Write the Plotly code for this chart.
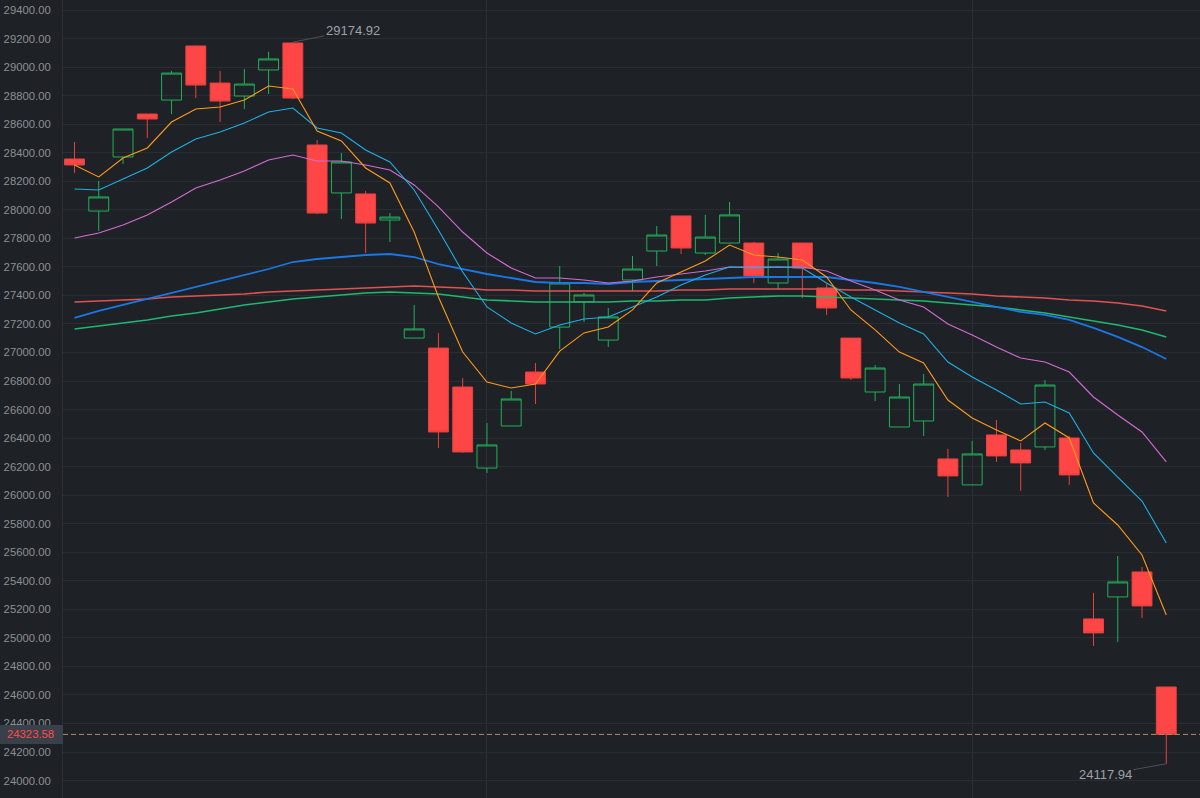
import plotly.graph_objects as go

# ---- data ----
opens = [28356, 27991, 28370, 28671, 28769, 29148, 28888, 28797, 28980, 29169,
         28454, 28118, 28111, 27928, 27101, 27031, 26758, 26190, 26485, 26863,
         27178, 27354, 27087, 27508, 27711, 27957, 27697, 27767, 27767, 27487,
         27767, 27452, 27101, 26723, 26478, 26520, 26254, 26072, 26422, 26317,
         26338, 26401, 25133, 25287, 25462, 24656]
highs = [28475, 28202, 28566, 28671, 28973, 29150, 28973, 28987, 29107, 29174.92,
         28489, 28398, 28132, 27977, 27333, 27137, 26821, 26506, 26730, 26926,
         27606, 27417, 27312, 27676, 27886, 27957, 27964, 28055, 27775, 27697,
         27767, 27480, 27101, 26912, 26779, 26849, 26324, 26380, 26527, 26366,
         26807, 26415, 25315, 25574, 25497, 24656]
lows = [28258, 27851, 28321, 28503, 28671, 28783, 28615, 28706, 28811, 28776,
        27970, 27935, 27697, 27774, 27101, 26331, 26296, 26155, 26485, 26639,
        27024, 27214, 27038, 27431, 27606, 27690, 27683, 27767, 27487, 27445,
        27382, 27263, 26807, 26660, 26478, 26415, 25987, 26072, 26233, 26030,
        26317, 26072, 24943, 24972, 25140, 24117.94]
closes = [28314, 28090, 28566, 28636, 28958, 28874, 28762, 28881, 29057, 28783,
          27977, 28335, 27907, 27949, 27165, 26443, 26303, 26352, 26674, 26779,
          27487, 27403, 27249, 27585, 27823, 27732, 27809, 27964, 27536, 27655,
          27592, 27312, 26821, 26891, 26688, 26779, 26135, 26289, 26275, 26226,
          26772, 26142, 25035, 25392, 25224, 24323.58]

ma_orange = [28314, 28230, 28363, 28433, 28615, 28706, 28720, 28769, 28867, 28846,
             28552, 28482, 28293, 28188, 27844, 27389, 27003, 26793, 26751, 26779,
             27010, 27137, 27179, 27298, 27487, 27564, 27641, 27753, 27683, 27669,
             27648, 27529, 27298, 27158, 27003, 26926, 26667, 26541, 26457, 26380,
             26506, 26401, 25945, 25791, 25581, 25160]
ma_cyan = [28146, 28139, 28216, 28293, 28405, 28496, 28545, 28608, 28685, 28713,
           28573, 28538, 28419, 28335, 28139, 27858, 27564, 27319, 27207, 27130,
           27193, 27235, 27249, 27319, 27389, 27473, 27543, 27599, 27592, 27599,
           27592, 27487, 27389, 27298, 27207, 27130, 26933, 26828, 26737, 26639,
           26653, 26576, 26296, 26127, 25959, 25665]
ma_pink = [27802, 27837, 27893, 27963, 28055, 28153, 28209, 28272, 28349, 28384,
           28342, 28342, 28314, 28279, 28174, 28020, 27844, 27697, 27592, 27522,
           27522, 27508, 27487, 27501, 27529, 27550, 27571, 27599, 27599, 27599,
           27599, 27571, 27501, 27438, 27368, 27319, 27200, 27123, 27038, 26961,
           26933, 26863, 26688, 26562, 26443, 26233]
ma_blue = [27242, 27291, 27333, 27375, 27417, 27459, 27501, 27543, 27585, 27634,
           27655, 27669, 27683, 27690, 27669, 27620, 27585, 27550, 27522, 27494,
           27487, 27487, 27480, 27494, 27501, 27508, 27515, 27522, 27529, 27529,
           27529, 27529, 27508, 27487, 27459, 27424, 27389, 27354, 27319, 27284,
           27263, 27228, 27172, 27109, 27038, 26954]
ma_red = [27354, 27361, 27368, 27375, 27389, 27396, 27403, 27410, 27424, 27431,
          27438, 27445, 27452, 27459, 27466, 27459, 27452, 27438, 27438, 27431,
          27431, 27431, 27431, 27431, 27431, 27438, 27438, 27445, 27445, 27445,
          27445, 27445, 27438, 27438, 27431, 27424, 27417, 27410, 27396, 27389,
          27382, 27368, 27361, 27347, 27326, 27291]
ma_green = [27165, 27186, 27207, 27228, 27256, 27277, 27305, 27333, 27354, 27375,
            27389, 27403, 27417, 27424, 27417, 27410, 27389, 27368, 27361, 27354,
            27354, 27354, 27354, 27361, 27361, 27368, 27368, 27382, 27389, 27396,
            27396, 27389, 27382, 27375, 27368, 27361, 27347, 27333, 27319, 27298,
            27277, 27249, 27221, 27193, 27158, 27109]

idx = list(range(len(opens)))

BG = "#1e2125"
GRID = "#2a2e33"
TXT = "#8b9097"
FONT = "Liberation Sans, Arial, sans-serif"

fig = go.Figure()
fig.add_trace(go.Candlestick(
    x=idx, open=opens, high=highs, low=lows, close=closes,
    increasing=dict(line=dict(color="#22b05a", width=1), fillcolor="rgba(0,0,0,0)"),
    decreasing=dict(line=dict(color="#e8423f", width=1), fillcolor="#ff4646"),
    whiskerwidth=0, hoverinfo="skip", name="K"))

lines = [
    (ma_green, "#1fb870", 1.6),
    (ma_red, "#e05252", 1.6),
    (ma_blue, "#1a78e6", 1.8),
    (ma_pink, "#d56bd5", 1.1),
    (ma_cyan, "#1fb0e6", 1.1),
    (ma_orange, "#ff9a1a", 1.1),
]
for vals, col, w in lines:
    fig.add_trace(go.Scatter(x=idx, y=vals, mode="lines",
                             line=dict(color=col, width=w), hoverinfo="skip"))

last = closes[-1]
imax = highs.index(max(highs))
imin = lows.index(min(lows))

fig.update_layout(
    width=1200, height=798,
    margin=dict(l=63, r=0, t=0, b=0),
    paper_bgcolor=BG, plot_bgcolor=BG,
    showlegend=False,
    boxgap=0.18, boxgroupgap=0,
    xaxis=dict(range=[-0.474, 46.39], rangeslider=dict(visible=False),
               showticklabels=False, tickvals=[-3, 17, 37], showgrid=True,
               gridcolor=GRID, zeroline=False, showline=False, ticks=""),
    yaxis=dict(range=[23877.9, 29470.1], dtick=200, tick0=0, tickformat=".2f",
               showgrid=True, gridcolor=GRID, zeroline=False, showline=True,
               linecolor=GRID, linewidth=1, ticks="", ticklabelstandoff=9,
               tickfont=dict(family=FONT, size=11.3, color=TXT)),
    shapes=[
        dict(type="line", xref="paper", x0=0, x1=1, yref="y", y0=last, y1=last,
             line=dict(color="#b08a60", width=1, dash="5px,3px"), layer="above"),
        dict(type="rect", xref="paper", x0=-63 / 1137, x1=0, yref="y",
             y0=last - 9.5 * 7.0077, y1=last + 9.5 * 7.0077,
             fillcolor="#394049", line=dict(width=0), layer="above"),
    ],
    annotations=[
        dict(xref="paper", x=-33 / 1137, yref="y", y=last, text=f"{last:.2f}",
             xanchor="center", yanchor="middle",
             showarrow=False, font=dict(family=FONT, size=11.3, color="#ff4a4a")),
        dict(x=imax, y=highs[imax], text=f"{highs[imax]:.2f}", showarrow=True,
             arrowhead=0, arrowwidth=1, arrowcolor="#4c5158", ax=60, ay=-12,
             font=dict(family=FONT, size=13, color="#9aa1a9")),
        dict(x=imin, y=lows[imin], text=f"{lows[imin]:.2f}", showarrow=True,
             arrowhead=0, arrowwidth=1, arrowcolor="#4c5158", ax=-61, ay=11,
             font=dict(family=FONT, size=13, color="#9aa1a9")),
    ],
)

fig.write_html("out.html")
